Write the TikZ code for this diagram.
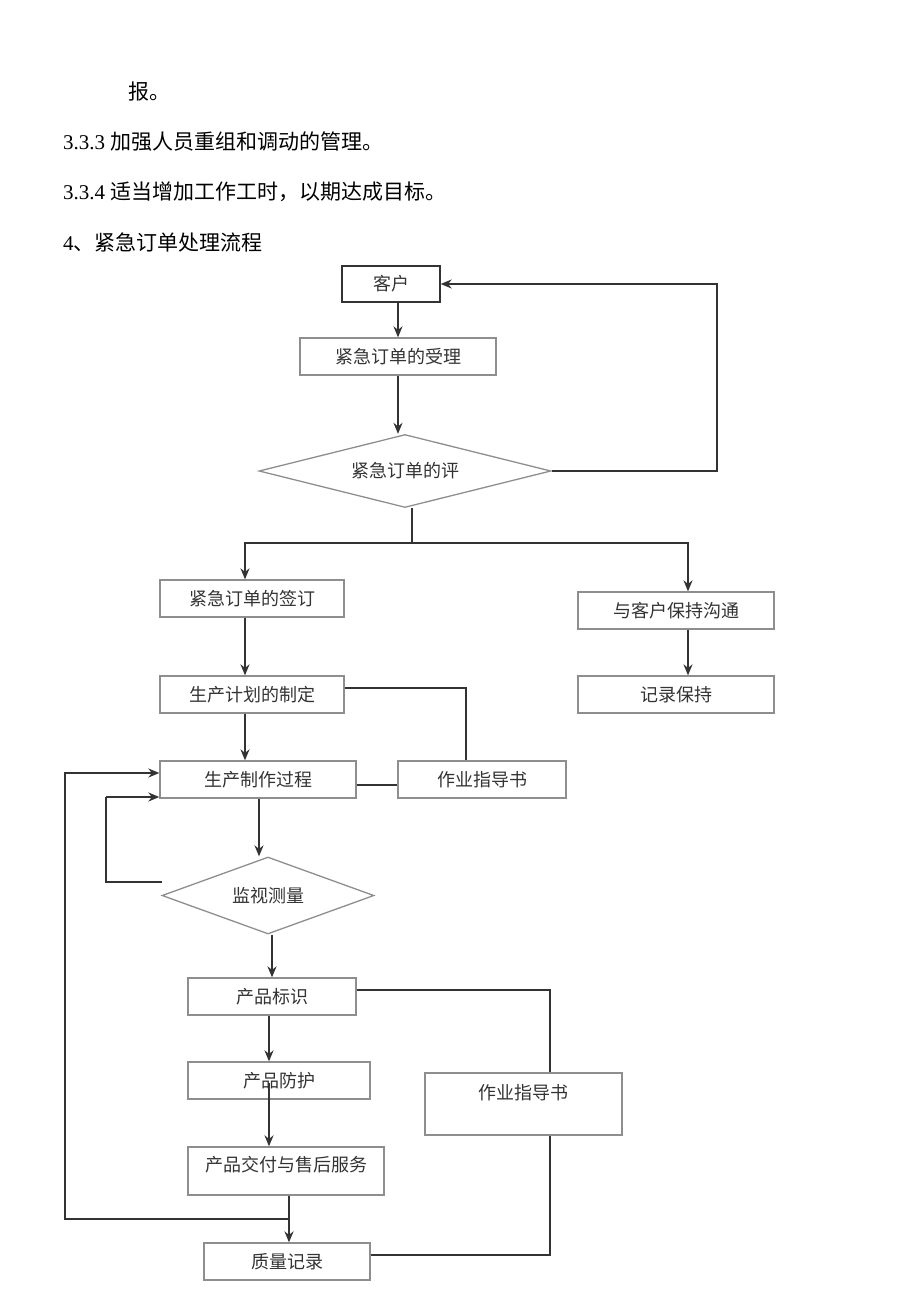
\documentclass[tikz,border=0pt]{standalone}
\usepackage{fontspec}
\setmainfont{Liberation Serif}
\newfontfamily\cjk{Noto Sans CJK SC}
\usetikzlibrary{arrows.meta,shapes.geometric}
\definecolor{boxgray}{HTML}{8E8E8E}
\definecolor{linegray}{HTML}{333333}
\definecolor{txtgray}{HTML}{333333}
\begin{document}
\begin{tikzpicture}[x=1pt,y=-1pt,
  box/.style={draw=boxgray,line width=1.3pt,minimum width=#1,minimum height=37pt,inner sep=0pt,
    text=txtgray,font=\cjk\fontsize{18}{18}\selectfont},
  lbl/.style={text=txtgray,font=\cjk\fontsize{18}{18}\selectfont},
  dia/.style={diamond,draw=boxgray,line width=1.3pt,inner sep=0pt,text=txtgray,
    font=\cjk\fontsize{18}{18}\selectfont},
  body/.style={anchor=west,inner sep=0pt,font=\fontsize{21}{21}\selectfont},
  conn/.style={draw=linegray,line width=1.8pt},
  arr/.style={conn,-{Stealth[length=11pt,width=9pt]}}
]
\useasboundingbox (0,0) rectangle (920,1301);

% body text
\node[body] (t1) at (128,92) {\cjk 报。};
\node[body] (t2) at (63,142) {3.3.3 {\cjk 加强人员重组和调动的管理。}};
\node[body] (t3) at (63,192) {3.3.4 {\cjk 适当增加工作工时，以期达成目标。}};
\node[body] (t4) at (63,242) {4{\cjk 、紧急订单处理流程}};

% nodes
\node[box=98pt,minimum height=36pt,draw=linegray] (kh) at (391,284) {客户};
\node[box=196pt] (sl) at (398,356.5) {紧急订单的受理};
\node[dia,aspect=4,minimum width=292pt,minimum height=73pt] (d1) at (405,471) {紧急订单的评};
\node[box=184pt] (qd) at (252,598.5) {紧急订单的签订};
\node[box=196pt] (gt) at (676,610.5) {与客户保持沟通};
\node[box=196pt] (jl) at (676,694.5) {记录保持};
\node[box=184pt] (jh) at (252,694.5) {生产计划的制定};
\node[box=196pt] (sc) at (258,779.5) {生产制作过程};
\node[box=168pt] (zy1) at (482,779.5) {作业指导书};
\node[dia,aspect=2.75,minimum width=212pt,minimum height=77pt] (d2) at (268,895.5) {监视测量};
\node[box=168pt] (bs) at (272,996.5) {产品标识};
\node[box=182pt] (fh) at (279,1080.5) {产品防护};
\node[box=196pt,minimum height=48pt,label={[lbl,yshift=6pt]center:产品交付与售后服务}] (jf) at (286,1171) {};
\node[box=197pt,minimum height=62pt,label={[lbl,yshift=11pt]center:作业指导书}] (zy2) at (523.5,1104) {};
\node[box=166pt] (zl) at (287,1261.5) {质量记录};

% helper coordinates
\coordinate (split) at (412,543);
\coordinate (fb) at (717,471);
\coordinate (lp1) at (65,1219);
\coordinate (lp2) at (106,882);
\coordinate (lp2s) at (162,882);
\coordinate (fhm) at (269,1083);

% connectors
\draw[arr] (sl.north |- kh.south) -- (sl.north);
\draw[arr] (sl.south) -- (sl.south |- d1.north);
\draw[arr] (d1.east) -- (fb) -- (fb |- kh.east) -- (kh.east);
\draw[conn] (d1.south -| split) -- (split);
\draw[arr] (split) -- (245,543) -- (245,543 |- qd.north);
\draw[arr] (split) -- (688,543) -- (688,543 |- gt.north);
\draw[arr] (688,0 |- gt.south) -- (688,0 |- jl.north);
\draw[arr] (245,0 |- qd.south) -- (245,0 |- jh.north);
\draw[arr] (245,0 |- jh.south) -- (245,0 |- sc.north);
\draw[conn] (jh.east |- 0,688) -- (466,688) -- (466,0 |- zy1.north);
\draw[conn] (sc.east |- 0,785) -- (zy1.west |- 0,785);
\draw[arr] (259,0 |- sc.south) -- (259,0 |- d2.north);
\draw[conn] (lp2s) -- (lp2) -- (106,797) -- (lp2 |- 0,797);
\draw[arr] (106,797) -- (sc.west |- 0,797);
\draw[arr] (272,0 |- d2.south) -- (272,0 |- bs.north);
\draw[arr] (269,0 |- bs.south) -- (269,0 |- fh.north);
\draw[arr] (fhm) -- (fhm |- jf.north);
\draw[arr] (289,0 |- jf.south) -- (289,0 |- zl.north);
\draw[arr] (289,1219) -- (lp1) -- (65,773) -- (sc.west |- 0,773);
\draw[conn] (bs.east |- 0,990) -- (550,990) -- (550,0 |- zy2.north);
\draw[conn] (zl.east |- 0,1255) -- (550,1255) -- (550,0 |- zy2.south);
\end{tikzpicture}
\end{document}
